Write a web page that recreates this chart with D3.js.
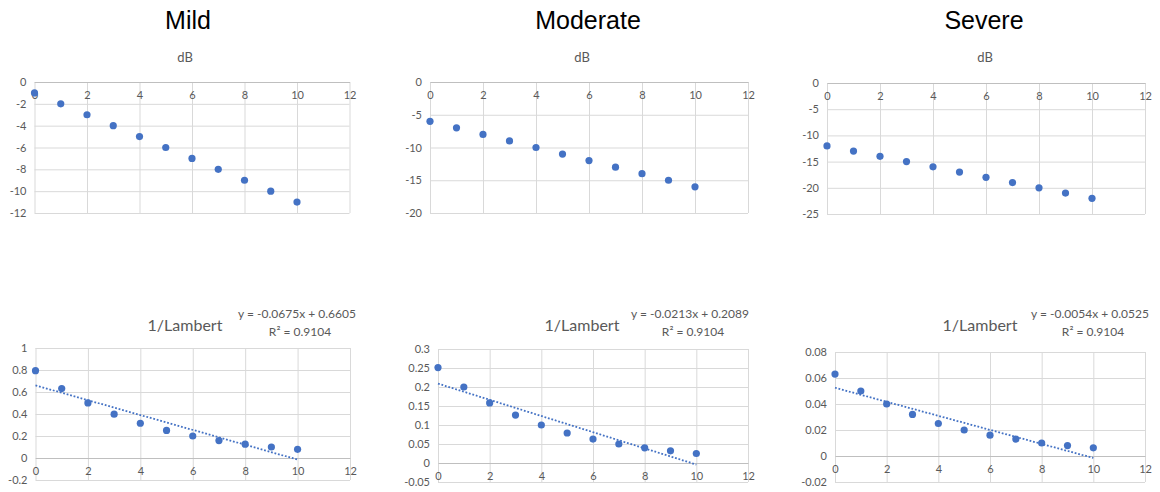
<!DOCTYPE html>
<html>
<head>
<meta charset="utf-8">
<script src="https://cdn.jsdelivr.net/npm/d3@7"></script>
<style>
  html, body { margin: 0; padding: 0; background: #fff; }
  svg { display: block; }
  .tick text { font-family: Lato, "Liberation Sans", sans-serif; font-size: 11px; fill: #595959; }
</style>
</head>
<body>
<svg id="chart" width="1160" height="492"></svg>
<script>
// Stimulus step (x axis)
const steps = [0, 1, 2, 3, 4, 5, 6, 7, 8, 9, 10];

// Attenuation in dB per group
const dbMild     = [-1, -2, -3, -4, -5, -6, -7, -8, -9, -10, -11];
const dbModerate = [-6, -7, -8, -9, -10, -11, -12, -13, -14, -15, -16];
const dbSevere   = [-12, -13, -14, -15, -16, -17, -18, -19, -20, -21, -22];

// Same attenuation expressed as 1/Lambert
const invMild     = [0.794, 0.631, 0.501, 0.398, 0.316, 0.251, 0.200, 0.158, 0.126, 0.100, 0.079];
const invModerate = [0.251, 0.200, 0.158, 0.126, 0.100, 0.079, 0.063, 0.050, 0.040, 0.032, 0.025];
const invSevere   = [0.063, 0.050, 0.040, 0.032, 0.025, 0.020, 0.016, 0.013, 0.010, 0.008, 0.0063];

// Linear trend lines fitted to the 1/Lambert series
const trendSlope     = [-0.0675, -0.0213, -0.0054];
const trendIntercept = [0.6605, 0.2089, 0.0525];
const trendR2        = [0.9104, 0.9104, 0.9104];

// Group names and axis tick values
const groups = ["Mild", "Moderate", "Severe"];
const xTicks = [0, 2, 4, 6, 8, 10, 12];
const dbTicks = [
  [0, -2, -4, -6, -8, -10, -12],
  [0, -5, -10, -15, -20],
  [0, -5, -10, -15, -20, -25]
];
const invTicks = [
  [-0.2, 0, 0.2, 0.4, 0.6, 0.8, 1],
  [-0.05, 0, 0.05, 0.1, 0.15, 0.2, 0.25, 0.3],
  [-0.02, 0, 0.02, 0.04, 0.06, 0.08]
];

const dbSeries = [dbMild, dbModerate, dbSevere];
const invSeries = [invMild, invModerate, invSevere];

// Layout of each panel (plot-area boxes in px)
const topBoxes = [
  { l: 34.5, r: 349.5, t: 82, b: 213 },
  { l: 430, r: 748, t: 82, b: 213 },
  { l: 827, r: 1145, t: 83, b: 214 }
];
const botBoxes = [
  { l: 35.5, r: 350, t: 348, b: 480 },
  { l: 438, r: 748, t: 349, b: 482 },
  { l: 835, r: 1145, t: 352, b: 482 }
];
const groupCenters = [188, 588, 984];
const dbCenters = [185, 582, 985];
const invTitleCenters = [185, 582, 980];
const eqCenters = [297, 690, 1090];

const COLOR = "#4472C4";
const GRID = "#D9D9D9";
const AXIS = "#BFBFBF";
const TEXT = "#595959";
const FONT = "Lato, 'Liberation Sans', sans-serif";

const svg = d3.select("#chart");

function fmt(v) {
  const s = d3.format("~g")(+v.toFixed(6));
  return s.replace("−", "-");
}

function panel(box, yTicks, values, trend) {
  const x = d3.scaleLinear().domain([0, 12]).range([box.l, box.r]);
  const y = d3.scaleLinear().domain([d3.min(yTicks), d3.max(yTicks)]).range([box.b, box.t]);
  const w = box.r - box.l;
  const h = box.b - box.t;

  // horizontal gridlines + y labels
  const gy = svg.append("g")
    .attr("transform", `translate(${box.l},0)`)
    .call(d3.axisLeft(y).tickValues(yTicks).tickSize(-w).tickPadding(8).tickFormat(fmt));
  gy.select(".domain").remove();
  gy.selectAll(".tick line").attr("stroke", d => d === 0 ? AXIS : GRID).attr("stroke-width", 1);

  // vertical gridlines
  const gx = svg.append("g")
    .attr("transform", `translate(0,${box.b})`)
    .call(d3.axisBottom(x).tickValues(xTicks).tickSize(-h).tickFormat(""));
  gx.select(".domain").remove();
  gx.selectAll(".tick line").attr("stroke", GRID).attr("stroke-width", 1);

  // x labels hang below the zero line
  const gl = svg.append("g")
    .attr("transform", `translate(0,${y(0)})`)
    .call(d3.axisBottom(x).tickValues(xTicks).tickSize(0).tickPadding(9).tickFormat(d3.format("d")));
  gl.select(".domain").attr("stroke", AXIS);

  // trend line
  if (trend) {
    svg.append("line")
      .attr("x1", x(0)).attr("y1", y(trend.b))
      .attr("x2", x(10)).attr("y2", y(trend.m * 10 + trend.b))
      .attr("stroke", COLOR)
      .attr("stroke-width", 1.8)
      .attr("stroke-dasharray", "1.8,1.8");
  }

  // markers
  svg.append("g").selectAll("circle")
    .data(values)
    .join("circle")
    .attr("cx", (d, i) => x(steps[i]))
    .attr("cy", d => y(d))
    .attr("r", 3.6)
    .attr("fill", COLOR);
}

groups.forEach((g, i) => {
  svg.append("text")
    .attr("x", groupCenters[i]).attr("y", 29)
    .attr("text-anchor", "middle")
    .attr("font-family", "'Liberation Sans', Arial, sans-serif")
    .attr("font-size", 25)
    .attr("fill", "#000")
    .text(g);

  svg.append("text")
    .attr("x", dbCenters[i]).attr("y", 62)
    .attr("text-anchor", "middle")
    .attr("font-family", FONT)
    .attr("font-size", 13)
    .attr("fill", TEXT)
    .text("dB");

  panel(topBoxes[i], dbTicks[i], dbSeries[i], null);

  svg.append("text")
    .attr("x", invTitleCenters[i]).attr("y", 331)
    .attr("text-anchor", "middle")
    .attr("font-family", FONT)
    .attr("font-size", 16)
    .attr("fill", TEXT)
    .text("1/Lambert");

  const m = trendSlope[i], b = trendIntercept[i];
  svg.append("text")
    .attr("x", eqCenters[i]).attr("y", 318)
    .attr("text-anchor", "middle")
    .attr("font-family", FONT)
    .attr("font-size", 12)
    .attr("fill", TEXT)
    .text(`y = ${m.toFixed(4)}x + ${b.toFixed(4)}`);

  svg.append("text")
    .attr("x", eqCenters[i] + 3).attr("y", 336)
    .attr("text-anchor", "middle")
    .attr("font-family", FONT)
    .attr("font-size", 12)
    .attr("fill", TEXT)
    .text(`R² = ${trendR2[i].toFixed(4)}`);

  panel(botBoxes[i], invTicks[i], invSeries[i], { m, b });
});
</script>
</body>
</html>
